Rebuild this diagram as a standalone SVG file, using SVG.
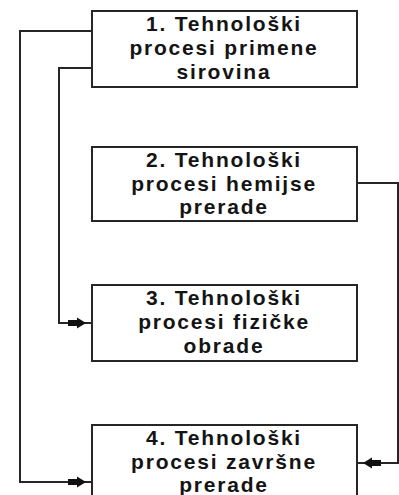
<svg xmlns="http://www.w3.org/2000/svg" width="399" height="495" viewBox="0 0 399 495">
  <style>
    .box { fill: #ffffff; stroke: #262626; stroke-width: 2; }
    .lbl { font-family: "Liberation Sans", Arial, sans-serif; font-weight: bold; font-size: 21px; letter-spacing: 1.8px; fill: #141414; text-anchor: middle; }
    .wire { fill: none; stroke: #262626; stroke-width: 2; }
  </style>
  <defs>
    <marker id="arrow" markerUnits="userSpaceOnUse" viewBox="-26 -6 27 12" refX="0" refY="0" markerWidth="27" markerHeight="12" orient="auto">
      <path d="M -24 -3 H -15 V -5.5 L -6 0 L -15 5.5 V 3 H -24 Z" fill="#111111"/>
    </marker>
  </defs>
  <rect width="399" height="495" fill="#ffffff"/>

  <g id="connectors">
    <!-- process 1 to process 4 (outer loop) -->
    <polyline class="wire" points="92,31 20,31 20,482 92,482" marker-end="url(#arrow)"/>
    <!-- process 1 to process 3 -->
    <polyline class="wire" points="92,68 59,68 59,323 92,323" marker-end="url(#arrow)"/>
    <!-- process 2 to process 4 -->
    <polyline class="wire" points="357,183 398,183 398,463 357,463" marker-end="url(#arrow)"/>
  </g>

  <g id="node1">
    <rect class="box" x="92" y="11" width="265" height="76"/>
    <text class="lbl" x="224" y="31">1. Tehnološki</text>
    <text class="lbl" x="224" y="55">procesi primene</text>
    <text class="lbl" x="224" y="79">sirovina</text>
  </g>

  <g id="node2">
    <rect class="box" x="92" y="147" width="265" height="74"/>
    <text class="lbl" x="224" y="167">2. Tehnološki</text>
    <text class="lbl" x="224" y="191">procesi hemijse</text>
    <text class="lbl" x="224" y="214">prerade</text>
  </g>

  <g id="node3">
    <rect class="box" x="92" y="285" width="265" height="76"/>
    <text class="lbl" x="224" y="305">3. Tehnološki</text>
    <text class="lbl" x="224" y="329">procesi fizičke</text>
    <text class="lbl" x="224" y="353">obrade</text>
  </g>

  <g id="node4">
    <rect class="box" x="92" y="425" width="265" height="76"/>
    <text class="lbl" x="224" y="445">4. Tehnološki</text>
    <text class="lbl" x="224" y="469">procesi završne</text>
    <text class="lbl" x="224" y="492">prerade</text>
  </g>
</svg>
